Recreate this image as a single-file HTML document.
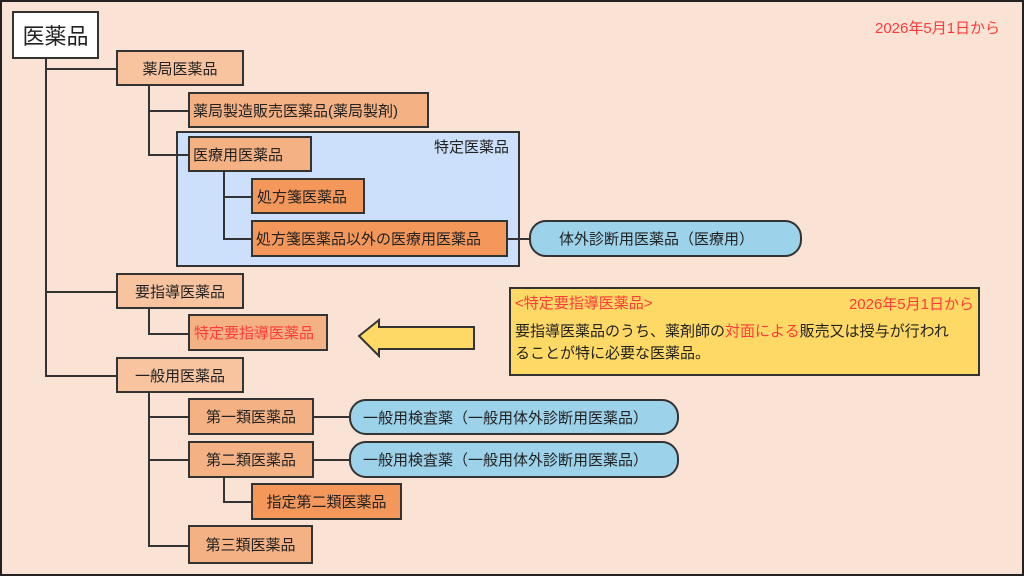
<!DOCTYPE html>
<html><head><meta charset="utf-8"><style>
body{margin:0;}
#c{position:relative;width:1024px;height:576px;background:#fae3d5;box-sizing:border-box;border:2px solid #222;overflow:hidden;font-family:"Liberation Sans","Noto Sans CJK JP",sans-serif;color:#222;}
.b{position:absolute;box-sizing:border-box;border:2px solid #333;font-size:15px;display:flex;align-items:center;}
.l1{background:#f8c4a0;justify-content:center;}
.l2{background:#f4b183;padding-left:6px;}
.l3{background:#f4975a;padding-left:4px;}
.c2{justify-content:center;padding:0;}
.pill{background:#9dd3ea;border-radius:17px;padding-left:28px;}
.h{position:absolute;background:#333;height:2px;}
.v{position:absolute;background:#333;width:2px;}
.red{color:#ff3b3b;}
</style></head><body><div id="c">
<div class="b" style="left:10px;top:9px;width:87px;height:48px;background:#fff;font-size:22px;justify-content:center;">医薬品</div>
<div class="red" style="position:absolute;left:873px;top:15px;font-size:15px;">2026年5月1日から</div>

<div style="position:absolute;left:174px;top:129px;width:344px;height:136px;box-sizing:border-box;border:2px solid #333;background:#cce0fb;"></div>
<div style="position:absolute;left:432px;top:134px;font-size:15px;">特定医薬品</div>

<div class="v" style="left:43px;top:55px;height:320px;"></div>
<div class="h" style="left:43px;top:66px;width:73px;"></div>
<div class="h" style="left:43px;top:289px;width:73px;"></div>
<div class="h" style="left:43px;top:373px;width:73px;"></div>
<div class="v" style="left:146px;top:82px;height:72px;"></div>
<div class="h" style="left:146px;top:108px;width:42px;"></div>
<div class="h" style="left:146px;top:152px;width:42px;"></div>
<div class="v" style="left:221px;top:168px;height:70px;"></div>
<div class="h" style="left:221px;top:194px;width:30px;"></div>
<div class="h" style="left:221px;top:236px;width:30px;"></div>
<div class="h" style="left:505px;top:236px;width:24px;"></div>
<div class="v" style="left:146px;top:305px;height:28px;"></div>
<div class="h" style="left:146px;top:331px;width:42px;"></div>
<div class="v" style="left:146px;top:389px;height:156px;"></div>
<div class="h" style="left:146px;top:414px;width:42px;"></div>
<div class="h" style="left:146px;top:457px;width:42px;"></div>
<div class="h" style="left:146px;top:543px;width:42px;"></div>
<div class="v" style="left:221px;top:473px;height:28px;"></div>
<div class="h" style="left:221px;top:499px;width:30px;"></div>
<div class="h" style="left:311px;top:414px;width:38px;"></div>
<div class="h" style="left:311px;top:457px;width:38px;"></div>

<div class="b l1" style="left:114px;top:48px;width:128px;height:36px;">薬局医薬品</div>
<div class="b l2" style="left:186px;top:90px;width:241px;height:36px;padding-left:3px;">薬局製造販売医薬品(薬局製剤)</div>
<div class="b l2" style="left:186px;top:134px;width:124px;height:36px;padding-left:3px;">医療用医薬品</div>
<div class="b l3" style="left:249px;top:176px;width:114px;height:36px;">処方箋医薬品</div>
<div class="b l3" style="left:249px;top:218px;width:257px;height:37px;padding-left:3px;">処方箋医薬品以外の医療用医薬品</div>
<div class="b pill" style="left:527px;top:218px;width:273px;height:37px;">体外診断用医薬品（医療用）</div>

<div class="b l1" style="left:114px;top:271px;width:128px;height:36px;">要指導医薬品</div>
<div class="b l2 red" style="left:186px;top:312px;width:140px;height:37px;padding-left:4px;">特定要指導医薬品</div>
<svg style="position:absolute;left:354px;top:316px;" width="122" height="40"><polygon points="3,18 23,2 23,9 118,9 118,31 23,31 23,38" fill="#ffd966" stroke="#333" stroke-width="2"/></svg>
<div style="position:absolute;left:507px;top:285px;width:471px;height:89px;box-sizing:border-box;border:2px solid #333;background:#ffd966;font-size:15px;">
<div class="red" style="position:absolute;left:4px;top:3px;">&lt;特定要指導医薬品&gt;</div>
<div class="red" style="position:absolute;right:4px;top:4px;">2026年5月1日から</div>
<div style="position:absolute;left:4px;top:32px;width:462px;line-height:22px;">要指導医薬品のうち、薬剤師の<span class="red">対面による</span>販売又は授与が行われ<br>ることが特に必要な医薬品。</div>
</div>

<div class="b l1" style="left:114px;top:355px;width:128px;height:36px;">一般用医薬品</div>
<div class="b l2 c2" style="left:186px;top:396px;width:126px;height:37px;">第一類医薬品</div>
<div class="b pill" style="left:347px;top:397px;width:330px;height:36px;padding-left:12px;">一般用検査薬（一般用体外診断用医薬品）</div>
<div class="b l2 c2" style="left:186px;top:439px;width:126px;height:37px;">第二類医薬品</div>
<div class="b pill" style="left:347px;top:439px;width:330px;height:37px;padding-left:12px;">一般用検査薬（一般用体外診断用医薬品）</div>
<div class="b l3 c2" style="left:249px;top:481px;width:151px;height:37px;">指定第二類医薬品</div>
<div class="b l2 c2" style="left:186px;top:523px;width:125px;height:39px;">第三類医薬品</div>
</div></body></html>
